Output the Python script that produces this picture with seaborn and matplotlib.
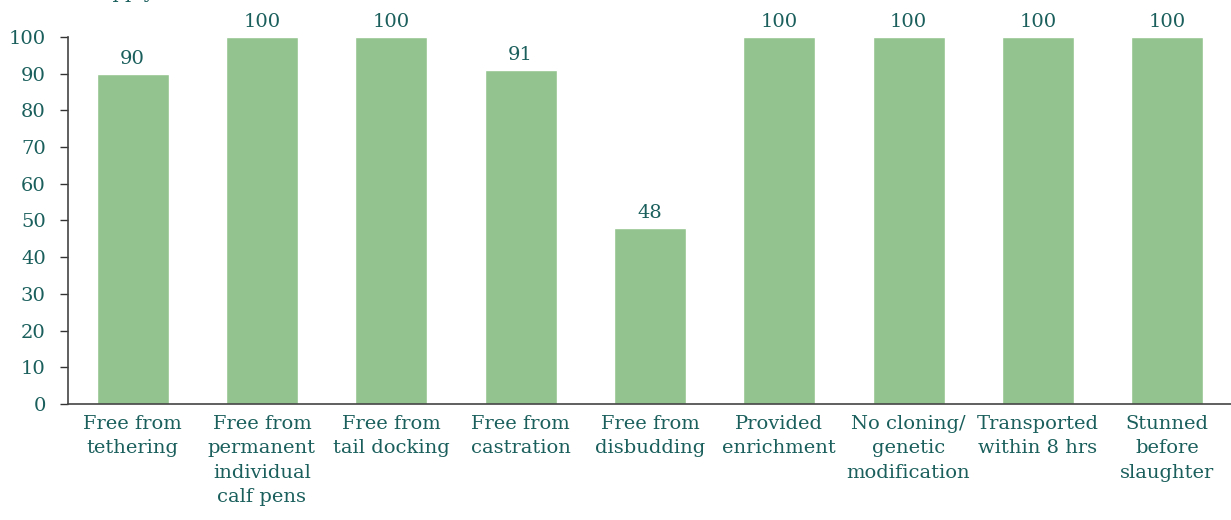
import pandas as pd
import seaborn as sns
import matplotlib.pyplot as plt

categories = ["Free from\ntethering", "Free from\npermanent\nindividual\ncalf pens",
              "Free from\ntail docking", "Free from\ncastration", "Free from\ndisbudding",
              "Provided\nenrichment", "No cloning/\ngenetic\nmodification",
              "Transported\nwithin 8 hrs", "Stunned\nbefore\nslaughter"]
values = [90, 100, 100, 91, 48, 100, 100, 100, 100]
yticks = list(range(0, 101, 10))

text_col = "#1a5f5c"
bar_col = "#93c48f"

sns.set_theme(style="white")
plt.rcParams['font.family'] = ['DejaVu Serif']

df = pd.DataFrame({"cat": categories, "val": values})

fig = plt.figure(figsize=(12.31, 5.2), dpi=100)
ax = fig.add_axes([0.0552, 0.223, 0.9455, 0.706])
sns.barplot(data=df, x="cat", y="val", color=bar_col, width=0.556,
            saturation=1, ax=ax)

ax.set_ylim(0, 100)
ax.set_xlim(-0.5, len(categories) - 0.5)
ax.set_yticks(yticks)
ax.set_yticklabels([str(t) for t in yticks], fontsize=14, color=text_col)
ax.set_xticks(range(len(categories)))
ax.set_xticklabels(categories, fontsize=14, color=text_col, linespacing=1.45)
ax.set_xlabel("")
ax.set_ylabel("")
ax.tick_params(axis="y", length=6, width=1, color="#333333", pad=10, left=True)
ax.tick_params(axis="x", length=0, pad=8)
for s in ["top", "right"]:
    ax.spines[s].set_visible(False)
for s in ["left", "bottom"]:
    ax.spines[s].set_color("#444444")
    ax.spines[s].set_linewidth(1.2)

for i, v in enumerate(values):
    ax.text(i, v + 1.5, str(v), ha="center", va="bottom", fontsize=14,
            color=text_col, clip_on=False)

# axis title cut off at the top edge, as in the source image
fig.text(0.062, 1.004, "% apply", fontsize=14, color=text_col, va="baseline")

fig.savefig("out.png", dpi=100)
